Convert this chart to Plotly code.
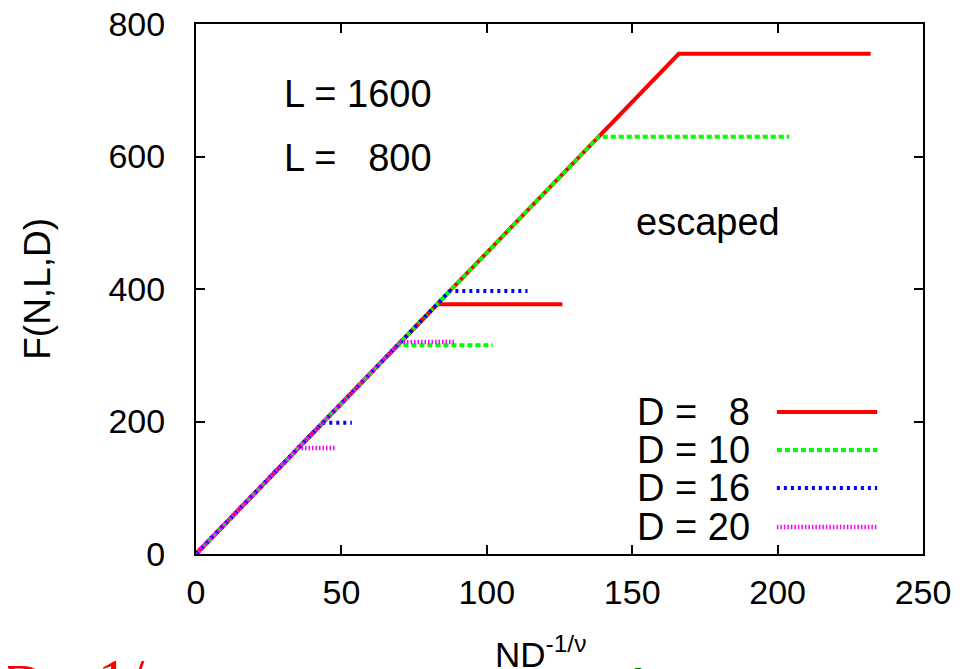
import plotly.graph_objects as go

# ---- data ----
d_values = [8, 10, 16, 20]
d_labels = ["D =\u00a0\u00a0\u00a08", "D = 10", "D = 16", "D = 20"]

# L = 1600 curves
x_L1600 = {
    8:  [0, 166.0, 232.0],
    10: [0, 138.5, 204.0],
    16: [0, 87.3, 114.0],
    20: [0, 70.4, 89.0],
}
y_L1600 = {
    8:  [0, 755, 755],
    10: [0, 630, 630],
    16: [0, 397, 397],
    20: [0, 320, 320],
}
# L = 800 curves
x_L800 = {
    8:  [0, 83.0, 126.0],
    10: [0, 69.3, 102.0],
    16: [0, 43.5, 53.6],
    20: [0, 35.2, 48.0],
}
y_L800 = {
    8:  [0, 377, 377],
    10: [0, 315, 315],
    16: [0, 198, 198],
    20: [0, 160, 160],
}

x_ticks = [0, 50, 100, 150, 200, 250]
y_ticks = [0, 200, 400, 600, 800]

# ---- styles ----
colors = {8: "#ff0000", 10: "#00ff00", 16: "#0000ff", 20: "#ff00ff"}
dashes = {8: "solid", 10: "5px,3px", 16: "3px,4px", 20: "1.5px,2px"}
widths = {8: 4, 10: 4, 16: 4, 20: 4.5}

FONT = "Liberation Sans, Arial, Helvetica, sans-serif"
SERIF = "Liberation Serif, Times New Roman, serif"

fig = go.Figure()
for d in d_values:
    for xs, ys in ((x_L1600[d], y_L1600[d]), (x_L800[d], y_L800[d])):
        fig.add_trace(go.Scatter(
            x=xs, y=ys, mode="lines", showlegend=False,
            line=dict(color=colors[d], width=widths[d], dash=dashes[d]),
            hoverinfo="skip"))

# manual gnuplot-style legend (text then sample)
leg_y = [0.268, 0.196, 0.1245, 0.051]
for d, lab, yy in zip(d_values, d_labels, leg_y):
    fig.add_annotation(x=0.765, y=yy, xref="paper", yref="paper",
                       text=lab, showarrow=False, xanchor="right", yanchor="middle",
                       font=dict(family=FONT, size=38, color="black"))
    fig.add_shape(type="line", xref="paper", yref="paper",
                  x0=0.799, x1=0.937, y0=yy, y1=yy,
                  line=dict(color=colors[d], width=widths[d], dash=dashes[d]))

# text labels inside plot
fig.add_annotation(x=29.5, y=694, xref="x", yref="y", text="L = 1600",
                   showarrow=False, xanchor="left", yanchor="middle",
                   font=dict(family=FONT, size=38, color="black"))
fig.add_annotation(x=29.5, y=598, xref="x", yref="y", text="L =\u00a0\u00a0\u00a0800",
                   showarrow=False, xanchor="left", yanchor="middle",
                   font=dict(family=FONT, size=38, color="black"))
fig.add_annotation(x=150.6, y=501, xref="x", yref="y", text="escaped",
                   showarrow=False, xanchor="left", yanchor="middle",
                   font=dict(family=FONT, size=38, color="black"))

# axis titles
fig.add_annotation(x=-0.219, y=0.5, xref="paper", yref="paper", text="F(N,L,D)",
                   showarrow=False, textangle=-90, xanchor="center", yanchor="middle",
                   font=dict(family=FONT, size=37, color="black"))
fig.add_annotation(x=0.408, y=-0.1395, xref="paper", yref="paper",
                   text="ND<sup>-1/\u03bd</sup>",
                   showarrow=False, xanchor="left", yanchor="top",
                   font=dict(family=FONT, size=35, color="black"))

# cut-off text of the page below the figure
fig.add_annotation(x=-0.27, y=-0.1812, xref="paper", yref="paper", text="D",
                   showarrow=False, xanchor="left", yanchor="top",
                   font=dict(family=SERIF, size=60, color="#ff0000"))
fig.add_annotation(x=-0.184, y=-0.1716, xref="paper", yref="paper", text="\u22121/\u03bd",
                   showarrow=False, xanchor="left", yanchor="top",
                   font=dict(family=SERIF, size=60, color="#ff0000"))
for gx, gt in ((302, "i"), (458, "i"), (639, "l"), (703, "i"), (770, "i")):
    fig.add_annotation(x=(gx - 196) / 727, y=-0.196, xref="paper", yref="paper",
                       text=gt, showarrow=False, xanchor="center", yanchor="top",
                       font=dict(family=SERIF, size=40, color="#008000"))

axis_common = dict(
    showgrid=False, zeroline=False, showline=True, linecolor="black", linewidth=2,
    mirror="ticks", ticks="inside", ticklen=9, tickwidth=2, tickcolor="black",
    tickfont=dict(family=FONT, size=34, color="black"), automargin=False,
    ticklabeloverflow="allow",
)
fig.update_xaxes(range=[0, 250], tickvals=x_ticks, ticklabelstandoff=7, **axis_common)
fig.update_yaxes(range=[0, 800], tickvals=y_ticks, ticklabelstandoff=22, **axis_common)

# page body has an 8px margin: the figure is made 8px smaller so it ends at the window edge
fig.update_layout(
    width=969, height=661,
    margin=dict(l=188, r=54, t=16, b=115),
    paper_bgcolor="white", plot_bgcolor="white",
    showlegend=False,
)
fig.write_html("out.html")
